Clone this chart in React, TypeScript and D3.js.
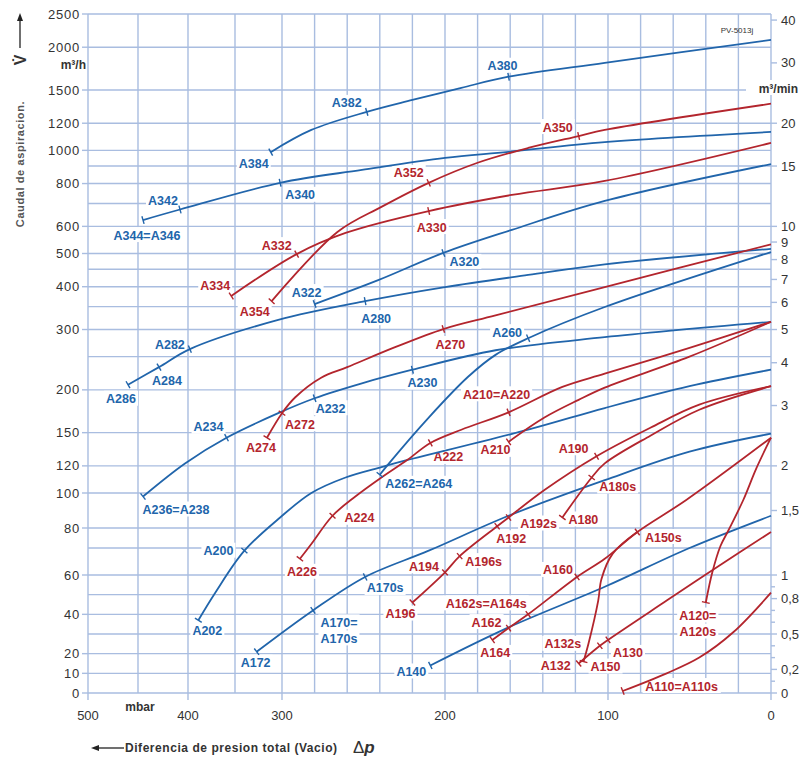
import React from 'react';
import * as d3 from 'd3';

type Pt = [number, number]; // [pressure difference mbar, suction flow m3/h]

const BLUE = '#2165ab';
const RED = '#b3252d';
const GRID = '#a9bde0';
const FONT = '"Liberation Sans", Arial, sans-serif';

// ---- curves ----
const curveA380: Pt[] = [[312, 988], [282, 1147], [248, 1295], [220, 1403], [190, 1522], [161, 1640], [102, 1800], [0, 2100]];
const curveA340: Pt[] = [[445, 626], [408, 672], [302, 804], [251, 877], [200, 951], [161, 990], [102, 1057], [0, 1132]];
const curveA350: Pt[] = [[311, 363], [266, 578], [239, 684], [210, 804], [180, 920], [149, 1016], [118, 1101], [102, 1147], [0, 1368]];
const curveA330: Pt[] = [[354, 376], [291, 498], [261, 574], [210, 665], [159, 741], [102, 814], [0, 1051]];
const curveA320: Pt[] = [[280, 356], [241, 418], [201, 502], [159, 586], [102, 712], [0, 912]];
const curveA280: Pt[] = [[460, 207], [429, 233], [398, 263], [304, 320], [249, 363], [200, 399], [149, 433], [102, 465], [0, 516]];
const curveA270: Pt[] = [[316, 145], [300, 171], [292, 190], [276, 217], [260, 233], [231, 266], [201, 301], [169, 330], [102, 399], [0, 532]];
const curveA260: Pt[] = [[240, 113], [235, 121], [210, 166], [186, 218], [169, 253], [149, 283], [102, 349], [0, 505]];
const curveA230: Pt[] = [[445, 98], [403, 122], [359, 145], [304, 171], [280, 189], [251, 209], [220, 229], [169, 261], [102, 285], [0, 316]];
const curveA220: Pt[] = [[289, 66], [282, 72], [269, 87], [255, 98], [239, 111], [223, 125], [209, 140], [190, 153], [161, 172], [128, 204], [102, 223], [50, 265], [0, 316]];
const curveA210: Pt[] = [[161, 141], [139, 166], [118, 187], [102, 203], [50, 250], [0, 316]];
const curveA200: Pt[] = [[389, 37], [371, 51], [340, 69], [302, 86], [282, 100], [261, 111], [239, 119], [231, 122], [149, 153], [102, 177], [50, 205], [0, 229]];
const curveA190: Pt[] = [[220, 46], [200, 61], [191, 67], [168, 81], [161, 86], [139, 102], [107, 128], [74, 155], [44, 181], [0, 205]];
const curveA180: Pt[] = [[128, 86], [110, 111], [102, 122], [74, 147], [44, 175], [0, 205]];
const curveA170: Pt[] = [[327, 21], [281, 42], [249, 59], [210, 69], [161, 87], [102, 109], [50, 132], [0, 149]];
const curveA140: Pt[] = [[209, 14], [162, 33], [102, 54], [50, 70], [0, 87]];
const curveA160: Pt[] = [[171, 27], [161, 33], [149, 40], [119, 59], [102, 66], [82, 78], [52, 96], [0, 145]];
const curveA150: Pt[] = [[115, 16], [112, 25], [106, 47], [104, 58], [97, 68], [82, 78]];
const curveA130: Pt[] = [[118, 15], [105, 24], [100, 27], [64, 47], [33, 63], [0, 78]];
const curveA120: Pt[] = [[40, 46], [36, 61], [31, 71], [26, 79], [17, 96], [9, 118], [0, 145]];
const curveA110: Pt[] = [[91, 1], [64, 10], [44, 18], [23, 31], [0, 51]];

const curves: { id: string; color: string; pts: Pt[] }[] = [
  { id: 'A380', color: BLUE, pts: curveA380 },
  { id: 'A340', color: BLUE, pts: curveA340 },
  { id: 'A320', color: BLUE, pts: curveA320 },
  { id: 'A280', color: BLUE, pts: curveA280 },
  { id: 'A260', color: BLUE, pts: curveA260 },
  { id: 'A230', color: BLUE, pts: curveA230 },
  { id: 'A200', color: BLUE, pts: curveA200 },
  { id: 'A170', color: BLUE, pts: curveA170 },
  { id: 'A140', color: BLUE, pts: curveA140 },
  { id: 'A350', color: RED, pts: curveA350 },
  { id: 'A330', color: RED, pts: curveA330 },
  { id: 'A270', color: RED, pts: curveA270 },
  { id: 'A220', color: RED, pts: curveA220 },
  { id: 'A210', color: RED, pts: curveA210 },
  { id: 'A190', color: RED, pts: curveA190 },
  { id: 'A180', color: RED, pts: curveA180 },
  { id: 'A160', color: RED, pts: curveA160 },
  { id: 'A150', color: RED, pts: curveA150 },
  { id: 'A130', color: RED, pts: curveA130 },
  { id: 'A120', color: RED, pts: curveA120 },
  { id: 'A110', color: RED, pts: curveA110 },
];

// model end points: [text, curve, point, label dx, label dy]
const markers: [string, string, Pt, number, number][] = [
  ['A384', 'A380', [312, 988], -17, 11],
  ['A382', 'A380', [248, 1295], -20, -9],
  ['A380', 'A380', [161, 1640], -6, -11],
  ['A344=A346', 'A340', [445, 626], 4, 15],
  ['A342', 'A340', [408, 672], -17, -9],
  ['A340', 'A340', [302, 804], 20, 12],
  ['A322', 'A320', [280, 356], -8, -12],
  ['A320', 'A320', [201, 502], 21, 9],
  ['A286', 'A280', [460, 207], -7, 14],
  ['A284', 'A280', [429, 233], 8, 13],
  ['A282', 'A280', [398, 263], -20, -5],
  ['A280', 'A280', [249, 363], 11, 17],
  ['A262=A264', 'A260', [240, 113], 39, 9],
  ['A260', 'A260', [149, 283], -21, -6],
  ['A236=A238', 'A230', [445, 98], 33, 13],
  ['A234', 'A230', [359, 145], -18, -11],
  ['A232', 'A230', [280, 189], 16, 10],
  ['A230', 'A230', [220, 229], 10, 13],
  ['A202', 'A200', [389, 37], 9, 10],
  ['A200', 'A200', [340, 69], -26, 0],
  ['A172', 'A170', [327, 21], -1, 11],
  ['A170=\nA170s', 'A170', [281, 42], 26, 12],
  ['A170s', 'A170', [249, 59], 20, 11],
  ['A140', 'A140', [209, 14], -19, 6],
  ['A354', 'A350', [311, 363], -17, 10],
  ['A352', 'A350', [210, 804], -20, -10],
  ['A350', 'A350', [118, 1101], -21, -9],
  ['A334', 'A330', [354, 376], -16, -10],
  ['A332', 'A330', [291, 498], -20, -9],
  ['A330', 'A330', [210, 665], 3, 16],
  ['A274', 'A270', [316, 145], -6, 10],
  ['A272', 'A270', [300, 171], 18, 11],
  ['A270', 'A270', [201, 301], 7, 15],
  ['A226', 'A220', [289, 66], 2, 13],
  ['A224', 'A220', [269, 87], 27, 2],
  ['A222', 'A220', [209, 140], 18, 14],
  ['A210=A220', 'A220', [161, 172], -12, -18],
  ['A210', 'A210', [161, 141], -13, 8],
  ['A196', 'A190', [220, 46], -12, 11],
  ['A194', 'A190', [200, 61], -21, -6],
  ['A196s', 'A190', [191, 67], 24, 5],
  ['A192', 'A190', [168, 81], 14, 12],
  ['A192s', 'A190', [161, 86], 30, 6],
  ['A190', 'A190', [107, 128], -23, -8],
  ['A180', 'A180', [128, 86], 21, 2],
  ['A180s', 'A180', [110, 111], 26, 9],
  ['A164', 'A160', [171, 27], 3, 13],
  ['A162', 'A160', [161, 33], -22, -6],
  ['A162s=A164s', 'A160', [149, 40], -42, -11],
  ['A160', 'A160', [119, 59], -19, -7],
  ['A150s', 'A160', [82, 78], 26, 5],
  ['A150', 'A150', [115, 16], 22, 5],
  ['A132', 'A130', [118, 15], -23, 2],
  ['A132s', 'A130', [105, 24], -37, -2],
  ['A130', 'A130', [100, 27], 20, 13],
  ['A120=\nA120s', 'A120', [40, 46], -8, 13],
  ['A110=A110s', 'A110', [91, 1], 59, -5],
];

// ---- axes ----
const flowTicks = [0, 10, 20, 40, 60, 80, 100, 120, 150, 200, 300, 400, 500, 600, 800, 1000, 1200, 1500, 2000, 2500];
const flowGrid = [0, 10, 20, 30, 40, 50, 60, 70, 80, 100, 120, 150, 200, 250, 300, 350, 400, 450, 500, 600, 700, 800, 900, 1000, 1200, 1500, 2000, 2500];
const minTicks = [0, 0.2, 0.5, 0.8, 1, 1.5, 2, 3, 4, 5, 6, 7, 8, 9, 10, 15, 20, 30, 40];
const minMinor = [0.1, 0.3, 0.4, 0.6, 0.7, 0.9];
const dpTicks = [0, 100, 200, 300, 400, 500];
const dpGrid = [0, 20, 40, 60, 80, 100, 120, 140, 160, 180, 200, 220, 240, 260, 280, 300, 350, 400, 450, 500];

// pressure axis is stretched below 300 mbar
const x = d3.scaleLinear().domain([0, 300, 400, 500]).range([771, 282, 188, 88]);
// flow axis: logarithmic above 100 m3/h, nearly linear below
const yLog = d3.scaleLog().domain([100, 2500]).range([493, 14]);
const yLow = d3.scaleLinear().domain([0, 60, 70, 80, 100]).range([693, 575, 548, 528, 493]);
const y = (v: number) => (v >= 100 ? yLog(v) : yLow(v));

const line = d3.line<Pt>().x(d => x(d[0])).y(d => y(d[1])).curve(d3.curveCatmullRom.alpha(0.5));

const textWidth = (s: string, size: number) =>
  d3.sum(s.split(''), c => (c === 'A' ? 0.72 : c === '=' ? 0.58 : 0.56)) * size;

const Label = ({ text, cx, cy, color }: { text: string; cx: number; cy: number; color: string }) => {
  const lines = text.split('\n');
  const lh = 16;
  return (
    <g>
      {lines.map((t, i) => {
        const w = textWidth(t, 12.5);
        return <rect key={'r' + i} x={cx - w / 2 - 2} y={cy + i * lh - 8} width={w + 4} height={15} fill="#fff" />;
      })}
      {lines.map((t, i) => (
        <text key={'t' + i} x={cx} y={cy + i * lh + 4.5} textAnchor="middle" fontSize={12.5} fontWeight="bold" fill={color} fontFamily={FONT}>
          {t}
        </text>
      ))}
    </g>
  );
};

export default function App() {
  const byId: Record<string, { color: string; pts: Pt[] }> = {};
  curves.forEach(c => (byId[c.id] = c));

  const marks = markers.map(([text, id, p, dx, dy]) => {
    const c = byId[id];
    const px = c.pts.map(q => [x(q[0]), y(q[1])]);
    const X0 = x(p[0]);
    const Y0 = y(p[1]);
    const i = d3.minIndex(px, q => (q[0] - X0) ** 2 + (q[1] - Y0) ** 2);
    const a = px[Math.max(i - 1, 0)];
    const b = px[Math.min(i + 1, px.length - 1)];
    const tx = b[0] - a[0];
    const ty = b[1] - a[1];
    const len = Math.hypot(tx, ty) || 1;
    const nx = -ty / len;
    const ny = tx / len;
    return { text, color: c.color, X0, Y0, nx, ny, cx: X0 + dx, cy: Y0 + dy };
  });

  return (
    <svg width={801} height={761} style={{ position: 'absolute', left: 0, top: 0, background: '#fff' }}>
      {/* grid */}
      <g stroke={GRID} strokeWidth={1.4}>
        {flowGrid.map(v => (
          <line key={'h' + v} x1={88} x2={771} y1={y(v)} y2={y(v)} />
        ))}
        {dpGrid.map(v => (
          <line key={'v' + v} x1={x(v)} x2={x(v)} y1={14} y2={693} />
        ))}
        {flowTicks.map(v => (
          <line key={'lt' + v} x1={82} x2={88} y1={y(v)} y2={y(v)} />
        ))}
        {minTicks.map(v => (
          <line key={'rt' + v} x1={771} x2={777} y1={y(v * 60)} y2={y(v * 60)} />
        ))}
        {minMinor.map(v => (
          <line key={'rm' + v} x1={771} x2={775} y1={y(v * 60)} y2={y(v * 60)} />
        ))}
        {dpTicks.map(v => (
          <line key={'bt' + v} x1={x(v)} x2={x(v)} y1={693} y2={700} />
        ))}
      </g>

      {/* label backgrounds hide the grid */}
      {marks.map((m, i) => (
        <Label key={'lb' + i} text={m.text} cx={m.cx} cy={m.cy} color={m.color} />
      ))}

      {/* curves */}
      <g fill="none" strokeWidth={1.8}>
        {curves.map(c => (
          <path key={c.id} d={line(c.pts) || ''} stroke={c.color} />
        ))}
      </g>
      <g strokeWidth={1.4}>
        {marks.map((m, i) => (
          <line key={'tk' + i} x1={m.X0 - m.nx * 4} y1={m.Y0 - m.ny * 4} x2={m.X0 + m.nx * 4} y2={m.Y0 + m.ny * 4} stroke={m.color} />
        ))}
      </g>

      {/* axis labels */}
      <g fontFamily={FONT} fontSize={13} fill="#333">
        {flowTicks.map(v => (
          <text key={'lf' + v} x={80} y={y(v) + 4.5} textAnchor="end" letterSpacing={0.8}>
            {v}
          </text>
        ))}
        {minTicks.map(v => (
          <text key={'rf' + v} x={781} y={y(v * 60) + 4.5}>
            {String(v).replace('.', ',')}
          </text>
        ))}
        {dpTicks.map(v => (
          <text key={'bx' + v} x={x(v)} y={720} textAnchor="middle">
            {v}
          </text>
        ))}
      </g>

      <g fontFamily={FONT} fontWeight="bold" fill="#333">
        <text x={86} y={69} textAnchor="end" fontSize={12}>
          m³/h
        </text>
        <rect x={746} y={80} width={55} height={15} fill="#fff" />
        <text x={798} y={93} textAnchor="end" fontSize={12}>
          m³/min
        </text>
        <text x={140} y={711} textAnchor="middle" fontSize={12}>
          mbar
        </text>
        <text x={125} y={752} fontSize={12} letterSpacing={0.55}>
          Diferencia de presion total (Vacio)
        </text>
        <text x={353} y={753} fontSize={17} fontWeight="normal">
          Δ<tspan fontStyle="italic" fontWeight="bold">p</tspan>
        </text>
        <text x={0} y={0} fontSize={11} fill="#555" letterSpacing={0.6} textAnchor="middle" transform="translate(24,164) rotate(-90)">
          Caudal de aspiracion.
        </text>
        <text x={0} y={0} fontSize={16} textAnchor="middle" transform="translate(26,60) rotate(-90)">
          V̇
        </text>
        <text x={737} y={33} fontSize={8} fontWeight="normal" textAnchor="middle">
          PV-5013j
        </text>
      </g>

      {/* arrows */}
      <g stroke="#222" strokeWidth={1.3} fill="#222">
        <line x1={20} x2={20} y1={48} y2={18} />
        <path d="M20,13 L17,21 L23,21 Z" stroke="none" />
        <line x1={97} x2={124} y1={748} y2={748} />
        <path d="M91,748 L99,745 L99,751 Z" stroke="none" />
      </g>
    </svg>
  );
}
